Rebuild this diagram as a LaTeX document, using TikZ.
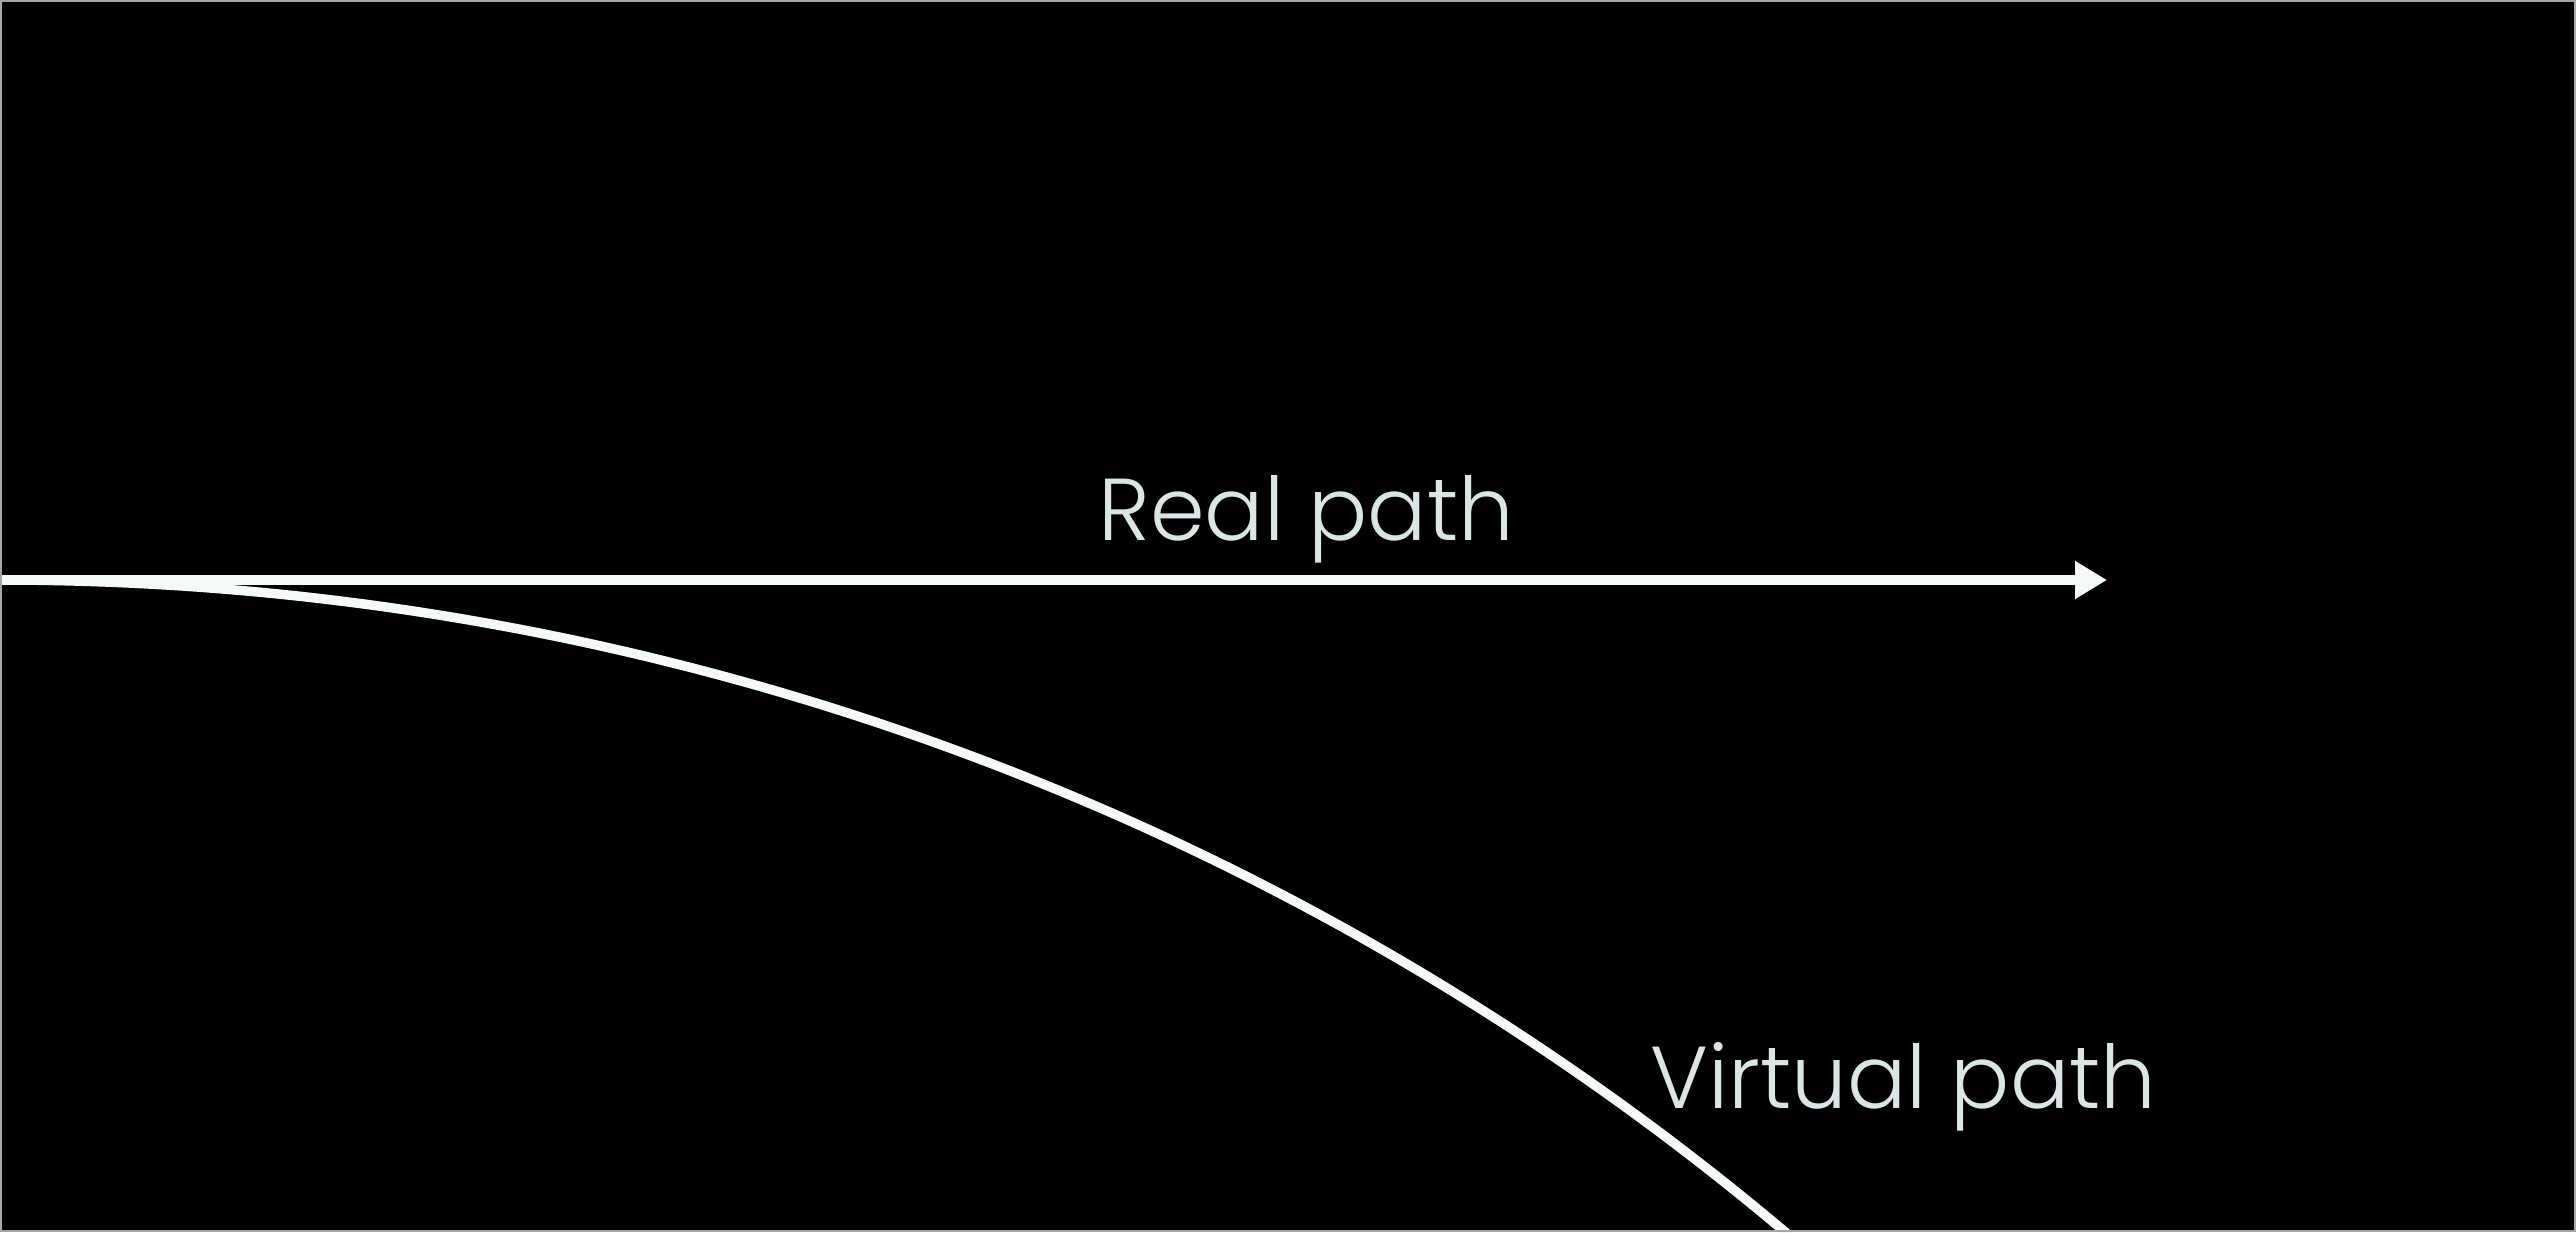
\documentclass[tikz,border=0pt]{standalone}
\usepackage{fontspec}
\setmainfont{Poppins}[UprightFont=* Light]
\usetikzlibrary{arrows.meta}
\definecolor{linewhite}{RGB}{244,250,250}
\definecolor{textwhite}{RGB}{218,230,230}
\tikzset{
  pathline/.style={draw=linewhite, line width=2.7pt},
  lbl/.style={text=textwhite, font=\fontsize{25}{30}\selectfont, inner sep=0pt, anchor=base west}
}
\begin{document}
\begin{tikzpicture}
\fill[black] (0,0) rectangle (25.76,12.32);
\useasboundingbox (0,0) rectangle (25.76,12.32);
\begin{scope}
\clip (0,0) rectangle (25.76,12.32);
\coordinate (start) at (0,6.52);
\coordinate (tip) at (21.07,6.52);
\draw[pathline] (start) arc[start angle=90, end angle=48, radius=27.7];
\draw[pathline, -{Triangle[length=0.32cm, width=0.36cm]}] (start) -- (tip);
\end{scope}
\node[lbl] (real) at (10.98,6.92) {Real path};
\node[lbl] (virtual) at (16.50,1.24) {Virtual path};
\draw[gray!70, line width=0.6pt] (0.01,0.01) rectangle (25.75,12.31);
\end{tikzpicture}
\end{document}
